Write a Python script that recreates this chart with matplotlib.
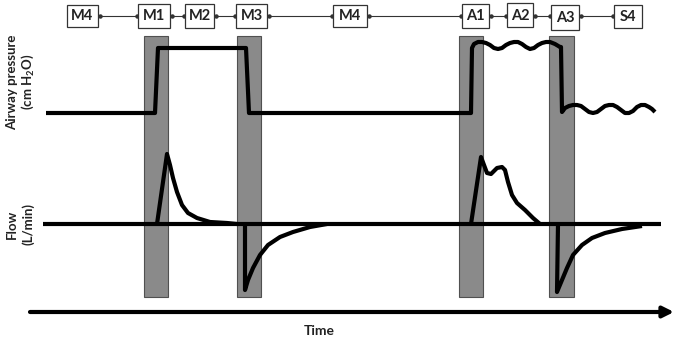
import matplotlib.pyplot as plt
from matplotlib.patches import Rectangle

plt.rcParams['font.family'] = ['Lato', 'DejaVu Sans']
plt.rcParams['mathtext.default'] = 'regular'

# phase boxes along the top (label, left, right, top, bottom) in pixel units
box_labels = ['M4', 'M1', 'M2', 'M3', 'M4', 'A1', 'A2', 'A3', 'S4']
box_left = [67, 138, 185, 236, 333, 462, 507, 551, 614]
box_right = [98, 170, 214, 267, 367, 489, 533, 579, 642]
box_top = [5, 4, 4, 4, 5, 4, 3, 5, 5]
box_bottom = [27, 28, 28, 28, 27, 28, 27, 30, 28]

# grey shaded bands
band_left = [144, 237, 459, 549]
band_right = [168, 261, 483, 574]

# airway pressure trace
press_x = [46, 155, 158, 246, 249, 471,
           472, 474, 478, 482, 486, 490, 494, 498, 502, 506, 510, 514, 518, 522,
           526, 530, 534, 538, 542, 546, 550, 555, 560,
           561, 562, 565, 569, 573, 577, 581, 585, 589, 593, 597, 601, 605, 609,
           613, 617, 621, 625, 629, 633, 637, 641, 645, 649, 652, 655]
press_y = [113, 113, 48, 48, 113, 113,
           48, 44, 42, 42, 43, 45, 48, 49, 48, 45, 43, 42, 42, 44,
           47, 49, 48, 45, 43, 42, 42, 44, 47,
           47, 112, 108, 106, 105, 105, 106, 109, 112, 113, 112, 109, 106, 105,
           105, 107, 110, 113, 113, 111, 107, 105, 105, 107, 109, 112]

# flow traces
flow_base_x = [43, 661]
flow_base_y = [224, 224]
m1_x = [157, 167, 170, 173, 177, 182, 188, 197, 210, 227, 237]
m1_y = [224, 154, 165, 178, 192, 205, 213, 218, 222, 223, 224]
m3_x = [245, 245, 248, 253, 260, 268, 280, 293, 310, 327]
m3_y = [224, 290, 280, 268, 255, 245, 237, 232, 227, 224]
a1_x = [471, 481, 487, 491, 497, 502, 505, 508, 512, 517, 525, 533, 540]
a1_y = [224, 157, 173, 174, 168, 167, 170, 182, 195, 203, 210, 218, 224]
a3_x = [558, 557, 562, 567, 573, 582, 592, 605, 622, 642]
a3_y = [224, 292, 280, 268, 255, 245, 238, 233, 229, 226]

fig = plt.figure(figsize=(6.79, 3.40), dpi=100)
ax = fig.add_axes([0, 0, 1, 1])
ax.set_xlim(0, 679)
ax.set_ylim(340, 0)
ax.axis('off')

# shaded bands
for l, r in zip(band_left, band_right):
    ax.add_patch(Rectangle((l, 36), r - l, 261, facecolor='#8a8a8a',
                           edgecolor='#505050', lw=0.8, zorder=1))

# boxes and connectors
for lab, l, r, t, b in zip(box_labels, box_left, box_right, box_top, box_bottom):
    ax.add_patch(Rectangle((l, t), r - l, b - t, facecolor='white',
                           edgecolor='#333333', lw=0.9, zorder=3))
    ax.text((l + r) / 2, (t + b) / 2 + 0.5, lab, ha='center', va='center',
            fontsize=10.5, fontweight='bold', color='#222222', zorder=4)
for i in range(len(box_labels) - 1):
    x0 = box_right[i] + 2
    x1 = box_left[i + 1] - 1
    ax.plot([x0, x1], [16, 16], color='#333333', lw=0.8, zorder=2,
            marker='o', markersize=2.2)

style = dict(color='black', lw=3, solid_joinstyle='round', solid_capstyle='butt', zorder=5)
ax.plot(press_x, press_y, **style)
ax.plot(flow_base_x, flow_base_y, **style)
ax.plot(m1_x, m1_y, **style)
ax.plot(m3_x, m3_y, **style)
ax.plot(a1_x, a1_y, **style)
ax.plot(a3_x, a3_y, **style)

# time arrow
ax.annotate('', xy=(674, 312), xytext=(30, 312),
            arrowprops=dict(arrowstyle='-|>', lw=3, color='black',
                            mutation_scale=16, shrinkA=0, shrinkB=0))
ax.text(319, 331, 'Time', ha='center', va='center', fontsize=10,
        fontweight='bold', color='#222222')

# y labels
ax.text(12, 82, 'Airway pressure', rotation=90, ha='center', va='center',
        fontsize=9.5, fontweight='bold', color='#222222')
ax.text(28, 82, '(cm H$_2$O)', rotation=90, ha='center', va='center',
        fontsize=9.5, fontweight='bold', color='#222222')
ax.text(12, 224, 'Flow', rotation=90, ha='center', va='center',
        fontsize=9.5, fontweight='bold', color='#222222')
ax.text(28, 224, '(L/min)', rotation=90, ha='center', va='center',
        fontsize=9.5, fontweight='bold', color='#222222')

fig.savefig('out.png', dpi=100)
